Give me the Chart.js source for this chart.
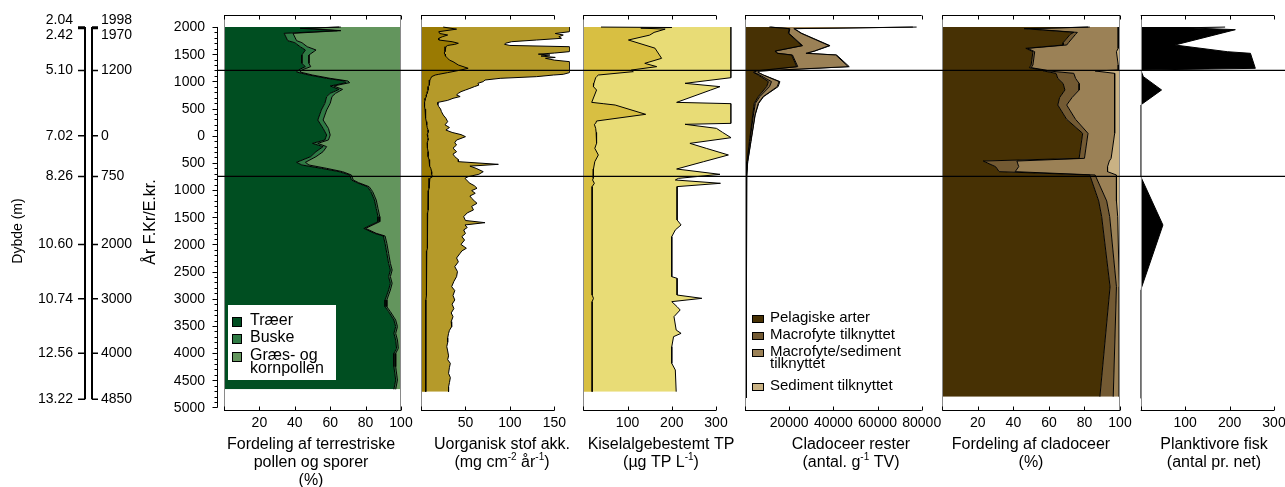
<!DOCTYPE html>
<html lang="da">
<head>
<meta charset="utf-8">
<title>Sedimentkerne – proxydata</title>
<script src="https://cdn.jsdelivr.net/npm/chart.js@4/dist/chart.umd.min.js"></script>
<style>
  html, body { margin: 0; padding: 0; background: #fff; }
  #stage { position: relative; width: 1285px; height: 487px; overflow: hidden; background: #fff; }
  #stage canvas { position: absolute; left: 0; top: 0; }
</style>
</head>
<body>
<div id="stage">
  <canvas id="pollen" width="1285" height="487"></canvas>
  <canvas id="inorg" width="1285" height="487"></canvas>
  <canvas id="tp" width="1285" height="487"></canvas>
  <canvas id="clad" width="1285" height="487"></canvas>
  <canvas id="cladPct" width="1285" height="487"></canvas>
  <canvas id="fish" width="1285" height="487"></canvas>
  <canvas id="time" width="1285" height="487"></canvas>
</div>
<script>
const W = 1285, H = 487;
const FONT = '"Liberation Sans", Arial, Helvetica, sans-serif';
const PLOT_TOP = 15, PLOT_BOTTOM = 410;
const YEAR_MAX = 2220, YEAR_MIN = -5046;   // E.Kr. positive, F.Kr. negative

// ---------- time axis ----------
const yearTickValues = [2000, 1500, 1000, 500, 0, -500, -1000, -1500, -2000, -2500, -3000, -3500, -4000, -4500, -5000];
const yearTickLabels = ['2000', '1500', '1000', '500', '0', '500', '1000', '1500', '2000', '2500', '3000', '3500', '4000', '4500', '5000'];
const chronoYears  = [1998, 1970, 1200, 0, -750, -2000, -3000, -4000, -4850];
const chronoLabels = ['1998', '1970', '1200', '0', '750', '2000', '3000', '4000', '4850'];
const depthLabels  = ['2.04', '2.42', '5.10', '7.02', '8.26', '10.60', '10.74', '12.56', '13.22'];
const markerYears  = [1200, -750];

// ---------- terrestrial pollen (%) ----------
const pollenYears = [
  1998, 1975, 1932, 1883, 1748, 1711, 1637, 1576, 1484, 1331,
  1270, 1208, 1171, 1116, 1055, 1006, 975, 914, 852, 779,
  718, 595, 472, 288, 135, 12, -79, -141, -202, -294,
  -386, -490, -539, -601, -662, -723, -815, -864, -938, -1030,
  -1183, -1337, -1490, -1582, -1705, -1796, -1845, -1980, -2164, -2348,
  -2471, -2593, -2716, -2839, -3023, -3146, -3237, -3391, -3513, -3636,
  -3759, -3912, -4004, -4249, -4495, -4666];
const pollenTrees = [
  65, 43, 64, 34, 36, 40, 43, 46, 44, 44,
  46, 42, 41, 48, 58, 68, 69, 60, 65, 60,
  58, 57, 55, 53, 56, 58, 57, 50, 56, 52,
  49, 41, 44, 55, 65, 71, 72, 75, 81, 83,
  85, 86, 87, 87, 79, 85, 90, 91, 92, 93,
  94, 93, 94, 93, 91, 91, 93, 96, 97, 96,
  97, 97.5, 96, 96, 97, 96];
const pollenShrubs = [
  1, 2, 2, 5, 5, 4, 4, 6, 4, 4,
  3, 2, 2, 2, 2, 2, 2, 2, 2, 3,
  3, 3, 3, 3, 3, 2, 2, 3, 2, 4,
  3, 5, 4, 3, 2, 1, 1, 1, 1, 1,
  1, 1, 1, 1, 1, 1, 1, 1, 1, 1,
  1, 1, 1, 1, 1, 1, 1, 1, 1, 1,
  1, 1, 1, 1, 1, 1];
const pollenHerbs = [
  34, 55, 34, 61, 59, 56, 53, 48, 52, 52,
  51, 56, 57, 50, 40, 30, 29, 38, 33, 37,
  39, 40, 42, 44, 41, 40, 41, 47, 42, 44,
  48, 54, 52, 42, 33, 28, 27, 24, 18, 16,
  14, 13, 12, 12, 20, 14, 9, 8, 7, 6,
  5, 6, 5, 6, 8, 8, 6, 3, 2, 3,
  2, 1.5, 3, 3, 2, 3];

// ---------- inorganic matter accumulation (mg cm-2 yr-1) ----------
const inorgYears = [
  1998, 1960, 1913, 1880, 1852, 1820, 1791, 1760, 1729, 1700,
  1680, 1660, 1637, 1546, 1520, 1500, 1484, 1465, 1440, 1423,
  1390, 1362, 1300, 1240, 1208, 1160, 1129, 1116, 1086, 1055,
  1024, 995, 963, 930, 902, 870, 840, 810, 779, 750,
  720, 687, 650, 613, 570, 534, 490, 442, 380, 320,
  258, 200, 150, 104, 60, 20, -18, -50, -80, -130,
  -171, -230, -294, -340, -386, -440, -478, -527, -560, -601,
  -662, -711, -754, -784, -830, -876, -920, -968, -1010, -1060,
  -1110, -1152, -1200, -1244, -1300, -1366, -1420, -1489, -1560, -1600,
  -1642, -1690, -1734, -1800, -1857, -1920, -2000, -2071, -2120, -2163,
  -2250, -2320, -2409, -2500, -2593, -2680, -2777, -2850, -2940, -3022,
  -3100, -3180, -3260, -3329, -3420, -3513, -3580, -3636, -3720, -3800,
  -3881, -3960, -4050, -4120, -4188, -4260, -4372, -4450, -4540, -4620,
  -4709];
const inorgOuter = [
  167, 167, 167, 151, 160, 155, 158, 130, 102, 95,
  94, 100, 167, 167, 150, 132, 145, 135, 151, 140,
  150, 167, 167, 167, 167, 167, 160, 149, 130, 89,
  72, 70, 64, 65, 60, 55, 50, 45, 42, 40,
  44, 36, 30, 19, 19, 20, 22, 23, 25, 28,
  30, 27, 32, 28, 35, 45, 50, 45, 40, 38,
  40, 36, 40, 36, 38, 42, 42, 87, 55, 62,
  70, 65, 53, 49.5, 52, 55, 60, 63, 57, 61,
  55, 57, 60, 63, 57, 59, 52, 48, 50, 72,
  49.5, 52, 48, 50, 46, 49, 45, 51, 46, 44,
  40, 42, 38, 41, 40, 37, 34.5, 38, 36, 38,
  35, 37, 34, 36, 34, 34.5, 32, 31, 30, 30,
  29, 30, 31, 30, 33, 32, 31, 33, 32, 31,
  31];
const inorgInner = [
  25, 40, 20, 21, 30, 24, 20, 20, 35, 42,
  38, 30, 28, 27, 26, 27, 27, 28, 29, 30,
  32, 36, 42, 53, 45, 30, 20, 16, 12, 11,
  10, 10, 9, 9, 8, 8, 8, 7.5, 7, 6,
  6, 5, 4.5, 4, 4, 4, 4.5, 5, 5, 5.5,
  6, 6.5, 7, 8, 8, 7, 7.5, 8, 8, 7,
  7.5, 7, 8, 8, 8, 9, 9, 10, 10, 11,
  12, 12, 13, 10, 9, 9, 9, 9, 8.5, 8.5,
  8, 8, 8, 8, 8, 8, 7.5, 7.5, 7.5, 7.5,
  7.5, 7.5, 7, 7, 7, 7, 7, 7, 6.5, 6.5,
  6.5, 6.5, 6, 6, 6, 6, 6, 6, 6, 5.5,
  5.5, 5.5, 5.5, 5.5, 5.5, 5.5, 5.5, 5.5, 5.3, 5.3,
  5.3, 5.3, 5.3, 5.3, 5.3, 5.3, 5.3, 5.3, 5.3, 5.3,
  5.3];

// ---------- diatom-inferred TP (µg TP L-1) ----------
const tpYears = [
  1998, 1990, 1980, 1960, 1900, 1850, 1760, 1610, 1423, 1331,
  1270, 1208, 1178, 1116, 1086, 1067, 963, 902, 840, 613,
  589, 564, 393, 270, 227, 209, 135, 60, -37, -141,
  -233, -355, -478, -613, -711, -785, -815, -876, -937, -1550,
  -1642, -1734, -1857, -2593, -2624, -2931, -2992, -3053, -3145, -3206,
  -3329, -3575, -3636, -3697, -3881, -4188, -4310, -4709];
const tpOuter = [
  334, 334, 334, 334, 334, 334, 334, 334, 334, 334,
  334, 334, 334, 334, 334, 334, 230, 309, 288, 211,
  334, 334, 334, 334, 334, 230, 301, 315, 334, 241,
  278, 328, 272, 211, 309, 215, 208, 310, 212, 212,
  221, 208, 200, 200, 212, 212, 268, 200, 212, 219,
  205, 210, 221, 204, 200, 200, 208, 210];
const tpInner = [
  40, 200, 130, 185, 160, 150, 102, 162, 177, 139,
  166, 109, 113, 34, 30, 28, 24, 23, 30, 19,
  45, 72, 141, 30, 28, 25, 28, 29, 30, 30,
  26, 34, 26, 23, 23, 22, 21, 25, 20, 20,
  20, 20, 20, 20, 20, 20, 23, 20, 20, 20,
  20, 20, 20, 20, 20, 20, 20, 20];

// ---------- cladoceran remains (no. g-1 dry weight) ----------
const cladYears = [
  1998, 1969, 1883, 1656, 1558, 1515, 1484, 1270, 1190, 1165,
  1116, 995, 902, 718, 595, 380, -110, -478, -754, -1000,
  -2000, -3000, -4000, -4820];
const cladPelagic = [
  11000, 20000, 19600, 25700, 13600, 14500, 21100, 23400, 4500, 3800,
  6000, 10600, 9800, 6000, 4200, 3500, 2000, 900, 500, 600,
  550, 500, 480, 450];
const cladMacrophyte = [
  500, 300, 300, 400, 300, 300, 400, 500, 500, 500,
  700, 1400, 1300, 700, 500, 300, 200, 100, 60, 60,
  50, 40, 40, 40];
const cladMacroSed = [
  64500, 1800, 5500, 12000, 17500, 12800, 19600, 22800, 1500, 1500,
  1500, 3400, 3500, 1500, 1300, 700, 400, 200, 100, 60,
  40, 30, 30, 20];
const cladSediment = [
  1700, 200, 300, 400, 300, 300, 400, 500, 200, 200,
  200, 400, 400, 200, 200, 100, 100, 50, 30, 10,
  10, 10, 10, 10];

// ---------- cladoceran distribution (%) ----------
const cladPctYears = [
  1998, 1969, 1900, 1864, 1710, 1668, 1607, 1545, 1300, 1251,
  1208, 1190, 1147, 1055, 960, 840, 700, 564, 300, 43,
  -417, -466, -570, -662, -723, -1200, -1490, -2778, -4801];
const pelagicPct = [
  82, 46, 74, 72, 68, 68, 47, 51, 50, 49,
  56, 57, 64, 65, 68, 69, 66, 65, 70, 79,
  77, 23, 30, 32, 83, 88, 89.7, 94.4, 88.7];
const macrophytePct = [
  1, 1, 2, 3, 3, 2, 1, 1, 1, 1,
  2, 3, 10, 10, 9, 8, 7, 5, 5, 3,
  3, 19, 13, 9, 3, 4.5, 4.5, 3.6, 7.5];
const macroSedPct = [
  16, 52, 23, 24, 28, 29, 51, 46, 48, 49,
  41, 26, 23, 22, 20, 20, 24, 27, 22, 15,
  15, 52, 50, 52, 12, 5.5, 4.5, 1.6, 3.4];
const sedimentPct = [
  1, 1, 1, 1, 1, 1, 1, 2, 1, 1,
  1, 14, 3, 3, 3, 3, 3, 3, 3, 3,
  5, 6, 7, 7, 2, 2, 1.3, 0.4, 0.4];

// ---------- planktivorous fish (no. per net) ----------
const fishYears = [1998, 1985, 1950, 1668, 1545, 1515, 1239, 1208, 1086, 841, 565, -750, -1643, -2839, -4832];
const fishCatch = [190, 104, 213, 77, 195, 247, 258, 0, 6, 47, 0, 0, 50, 0, 0];

// ---------- x-axis ticks ----------
const pctTicks = [0, 20, 40, 60, 80, 100];
const pctTickLabels = ['', '20', '40', '60', '80', '100'];
const inorgTicks = [0, 50, 100, 150];
const inorgTickLabels = ['', '50', '100', '150'];
const tpTicks = [0, 100, 200, 300];
const tpTickLabels = ['', '100', '200', '300'];
const cladTicks = [0, 20000, 40000, 60000, 80000];
const cladTickLabels = ['', '20000', '40000', '60000', '80000'];
const fishTicks = [0, 100, 200, 300];
const fishTickLabels = ['', '100', '200', '300'];

const COLORS = {
  trees: '#004e21', shrubs: '#2f7a44', herbs: '#63955d',
  inorgInner: '#9a7a02', inorgOuter: '#b59a2a',
  tpInner: '#d8bf42', tpOuter: '#e8dc76',
  pelagic: '#473104', macrophyte: '#735a33', macroSed: '#9b8156', sediment: '#c9b284',
  fish: '#000000'
};

function points(years, values) {
  return years.map((yr, i) => ({ x: values[i], y: yr }));
}

// text with ^{...} superscripts, centred on cx, baseline at by
function drawRich(ctx, text, cx, by, size) {
  const parts = [];
  const re = /\^\{([^}]*)\}/g;
  let last = 0, m;
  while ((m = re.exec(text))) {
    if (m.index > last) parts.push({ t: text.slice(last, m.index), sup: false });
    parts.push({ t: m[1], sup: true });
    last = re.lastIndex;
  }
  if (last < text.length) parts.push({ t: text.slice(last), sup: false });
  const supSize = Math.round(size * 0.62);
  let total = 0;
  parts.forEach(p => {
    ctx.font = `${p.sup ? supSize : size}px ${FONT}`;
    p.w = ctx.measureText(p.t).width;
    total += p.w;
  });
  let x = cx - total / 2;
  ctx.textAlign = 'left';
  ctx.textBaseline = 'alphabetic';
  parts.forEach(p => {
    ctx.font = `${p.sup ? supSize : size}px ${FONT}`;
    ctx.fillText(p.t, x, p.sup ? by - size * 0.4 : by);
    x += p.w;
  });
}

// frame, top/bottom axes, tick labels, title and legend of one panel
const panelDecor = {
  id: 'panelDecor',
  afterDraw(chart, args, o) {
    const { ctx, chartArea: a, scales: { x } } = chart;
    ctx.save();
    ctx.lineWidth = 1;
    ctx.strokeStyle = '#8a8a8a';
    const frame = px => { ctx.beginPath(); ctx.moveTo(px, a.top); ctx.lineTo(px, a.bottom); ctx.stroke(); };
    frame(Math.round(a.left) + 0.5);
    if (o.rightFrame) frame(Math.round(a.right) - 0.5);

    ctx.strokeStyle = '#000';
    const first = x.getPixelForValue(o.ticks[0]);
    const lastPx = x.getPixelForValue(o.ticks[o.ticks.length - 1]);
    [[a.top, 1], [a.bottom, -1]].forEach(([edge, dir]) => {
      const yy = Math.round(edge) + 0.5;
      ctx.beginPath();
      ctx.moveTo(first, yy); ctx.lineTo(lastPx, yy);
      o.ticks.forEach(v => {
        const px = Math.round(x.getPixelForValue(v)) + 0.5;
        ctx.moveTo(px, yy); ctx.lineTo(px, yy + dir * 4);
      });
      ctx.stroke();
    });

    ctx.fillStyle = '#000';
    ctx.font = `14px ${FONT}`;
    ctx.textAlign = 'center';
    ctx.textBaseline = 'middle';
    o.ticks.forEach((v, i) => {
      if (o.tickLabels[i]) ctx.fillText(o.tickLabels[i], x.getPixelForValue(v), a.bottom + 13);
    });

    o.title.forEach((line, i) => drawRich(ctx, line, o.titleX, a.bottom + 38.5 + i * 18, 16));

    const lg = o.legend;
    if (lg) {
      if (lg.box) {
        ctx.fillStyle = '#fff';
        ctx.fillRect(lg.box.x, lg.box.y, lg.box.w, lg.box.h);
      }
      ctx.font = `${lg.fontSize}px ${FONT}`;
      ctx.textAlign = 'left';
      ctx.textBaseline = 'middle';
      chart.data.datasets.forEach((ds, i) => {
        const cy = lg.rows[i];
        const lines = Array.isArray(ds.label) ? ds.label : [ds.label];
        ctx.fillStyle = ds.backgroundColor;
        ctx.fillRect(lg.swatchX, cy + lg.swatchDy - lg.swatchH / 2, lg.swatchW, lg.swatchH);
        ctx.strokeStyle = '#000';
        ctx.strokeRect(lg.swatchX + 0.5, cy + lg.swatchDy - lg.swatchH / 2 + 0.5, lg.swatchW - 1, lg.swatchH - 1);
        ctx.fillStyle = '#000';
        lines.forEach((t, j) => ctx.fillText(t, lg.textX, cy + j * lg.lineGap));
      });
    }
    ctx.restore();
  }
};

function makePanel(canvasId, p) {
  const datasets = p.layers.map((layer, i) => ({
    label: layer.label,
    data: points(p.years, layer.values),
    backgroundColor: layer.color,
    borderColor: '#000',
    borderWidth: 1,
    pointRadius: 0,
    tension: 0,
    fill: p.stacked ? (i === 0 ? 'origin' : '-1') : 'origin'
  }));
  return new Chart(document.getElementById(canvasId), {
    type: 'line',
    data: { datasets },
    options: {
      indexAxis: 'y',
      responsive: false,
      animation: false,
      events: [],
      layout: { autoPadding: false, padding: { left: p.left, right: W - p.right, top: PLOT_TOP, bottom: H - PLOT_BOTTOM } },
      scales: {
        x: { type: 'linear', min: 0, max: p.max, stacked: !!p.stacked, display: false },
        y: { type: 'linear', min: YEAR_MIN, max: YEAR_MAX, display: false }
      },
      plugins: { legend: { display: false }, tooltip: { enabled: false }, panelDecor: p.decor }
    },
    plugins: [panelDecor]
  });
}

makePanel('pollen', {
  left: 224, right: 401, max: 100, stacked: true, years: pollenYears,
  layers: [
    { label: 'Træer', values: pollenTrees, color: COLORS.trees },
    { label: 'Buske', values: pollenShrubs, color: COLORS.shrubs },
    { label: ['Græs- og', 'kornpollen'], values: pollenHerbs, color: COLORS.herbs }
  ],
  decor: {
    ticks: pctTicks, tickLabels: pctTickLabels, rightFrame: true, titleX: 311,
    title: ['Fordeling af terrestriske', 'pollen og sporer', '(%)'],
    legend: { box: { x: 228, y: 305, w: 108, h: 75 }, fontSize: 16, rows: [321, 338, 356], lineGap: 13,
              swatchX: 232, swatchW: 10, swatchH: 10, swatchDy: 1, textX: 250 }
  }
});

makePanel('inorg', {
  left: 421, right: 569.5, max: 167, stacked: false, years: inorgYears,
  layers: [
    { label: 'Uorganisk stof', values: inorgInner, color: COLORS.inorgInner },
    { label: 'Uorganisk stof', values: inorgOuter, color: COLORS.inorgOuter }
  ],
  decor: {
    ticks: inorgTicks, tickLabels: inorgTickLabels, titleX: 502,
    title: ['Uorganisk stof akk.', '(mg cm^{-2} år^{-1})']
  }
});

makePanel('tp', {
  left: 583.3, right: 731.5, max: 335, stacked: false, years: tpYears,
  layers: [
    { label: 'TP', values: tpInner, color: COLORS.tpInner },
    { label: 'TP', values: tpOuter, color: COLORS.tpOuter }
  ],
  decor: {
    ticks: tpTicks, tickLabels: tpTickLabels, titleX: 661,
    title: ['Kiselalgebestemt TP', '(µg TP L^{-1})']
  }
});

makePanel('clad', {
  left: 745, right: 921.7, max: 80000, stacked: true, years: cladYears,
  layers: [
    { label: 'Pelagiske arter', values: cladPelagic, color: COLORS.pelagic },
    { label: 'Macrofyte tilknyttet', values: cladMacrophyte, color: COLORS.macrophyte },
    { label: ['Macrofyte/sediment', 'tilknyttet'], values: cladMacroSed, color: COLORS.macroSed },
    { label: 'Sediment tilknyttet', values: cladSediment, color: COLORS.sediment }
  ],
  decor: {
    ticks: cladTicks, tickLabels: cladTickLabels, titleX: 851,
    title: ['Cladoceer rester', '(antal. g^{-1} TV)'],
    legend: { box: null, fontSize: 15, rows: [318, 335, 352, 386], lineGap: 12,
              swatchX: 752, swatchW: 12, swatchH: 8, swatchDy: 1, textX: 770 }
  }
});

makePanel('cladPct', {
  left: 942.3, right: 1120, max: 100, stacked: true, years: cladPctYears,
  layers: [
    { label: 'Pelagiske arter', values: pelagicPct, color: COLORS.pelagic },
    { label: 'Macrofyte tilknyttet', values: macrophytePct, color: COLORS.macrophyte },
    { label: 'Macrofyte/sediment tilknyttet', values: macroSedPct, color: COLORS.macroSed },
    { label: 'Sediment tilknyttet', values: sedimentPct, color: COLORS.sediment }
  ],
  decor: {
    ticks: pctTicks, tickLabels: pctTickLabels, rightFrame: true, titleX: 1031,
    title: ['Fordeling af cladoceer', '(%)']
  }
});

makePanel('fish', {
  left: 1140.7, right: 1274, max: 300, stacked: false, years: fishYears,
  layers: [ { label: 'Planktivore fisk', values: fishCatch, color: COLORS.fish } ],
  decor: {
    ticks: fishTicks, tickLabels: fishTickLabels, titleX: 1214,
    title: ['Planktivore fisk', '(antal pr. net)']
  }
});

// pull apart labels of ticks that sit too close together
function spread(ps, gap) {
  const out = ps.slice();
  for (let i = 1; i < out.length; i++) {
    if (out[i] - out[i - 1] < gap) {
      const mid = (out[i] + out[i - 1]) / 2;
      out[i - 1] = mid - gap / 2;
      out[i] = mid + gap / 2;
    }
  }
  return out;
}

// calendar-year axis, depth/chronology columns and the two zone boundaries
const timeAxes = {
  id: 'timeAxes',
  afterDraw(chart, args, o) {
    const { ctx, scales: { y } } = chart;
    const py = v => y.getPixelForValue(v);
    ctx.save();
    ctx.strokeStyle = '#000';
    ctx.fillStyle = '#000';

    // year axis
    const ax = o.axisX + 0.5;
    const top = yearTickValues[0], bottom = yearTickValues[yearTickValues.length - 1];
    ctx.lineWidth = 1;
    ctx.beginPath();
    ctx.moveTo(ax, py(top)); ctx.lineTo(ax, py(bottom));
    for (let v = top; v >= bottom; v -= 100) {
      const p = Math.round(py(v)) + 0.5;
      const len = (v % 500 === 0) ? 5 : 3;
      ctx.moveTo(ax, p); ctx.lineTo(ax - len, p);
    }
    ctx.stroke();
    ctx.font = `14px ${FONT}`;
    ctx.textAlign = 'right';
    ctx.textBaseline = 'middle';
    yearTickValues.forEach((v, i) => ctx.fillText(yearTickLabels[i], o.axisX - 12, py(v) + 0.5));

    // depth and chronology columns
    const pos = chronoYears.map(py);
    const lab = spread(pos, 15);
    ctx.lineWidth = 2;
    ctx.beginPath();
    ctx.moveTo(o.depthX, pos[0]); ctx.lineTo(o.depthX, pos[pos.length - 1]);
    ctx.moveTo(o.chronoX, pos[0]); ctx.lineTo(o.chronoX, pos[pos.length - 1]);
    ctx.stroke();
    ctx.lineWidth = 1.5;
    ctx.beginPath();
    pos.forEach(p => {
      ctx.moveTo(o.depthX, p); ctx.lineTo(o.depthX - 7, p);
      ctx.moveTo(o.chronoX, p); ctx.lineTo(o.chronoX + 6, p);
    });
    ctx.stroke();
    ctx.font = `14px ${FONT}`;
    ctx.textAlign = 'right';
    depthLabels.forEach((t, i) => ctx.fillText(t, o.depthX - 12, lab[i]));
    ctx.textAlign = 'left';
    chronoLabels.forEach((t, i) => ctx.fillText(t, o.chronoX + 9, lab[i]));

    // rotated axis titles
    const rot = (t, cx, cy, size) => {
      ctx.save();
      ctx.translate(cx, cy);
      ctx.rotate(-Math.PI / 2);
      ctx.font = `${size}px ${FONT}`;
      ctx.textAlign = 'center';
      ctx.textBaseline = 'middle';
      ctx.fillText(t, 0, 0);
      ctx.restore();
    };
    rot('Dybde (m)', 18, 231, 14);
    rot('År F.Kr/E.kr.', 151, 222, 16);
    ctx.restore();
  }
};

new Chart(document.getElementById('time'), {
  type: 'line',
  data: {
    datasets: markerYears.map(yr => ({
      label: String(yr),
      data: [{ x: 0, y: yr }, { x: 1, y: yr }],
      borderColor: '#000', borderWidth: 1.3, pointRadius: 0, fill: false, tension: 0
    }))
  },
  options: {
    responsive: false, animation: false, events: [],
    layout: { autoPadding: false, padding: { left: 217, right: 0, top: PLOT_TOP, bottom: H - PLOT_BOTTOM } },
    scales: {
      x: { type: 'linear', min: 0, max: 1, display: false },
      y: { type: 'linear', min: YEAR_MIN, max: YEAR_MAX, display: false }
    },
    plugins: {
      legend: { display: false }, tooltip: { enabled: false },
      timeAxes: { axisX: 217, depthX: 85, chronoX: 92 }
    }
  },
  plugins: [timeAxes]
});
</script>
</body>
</html>
